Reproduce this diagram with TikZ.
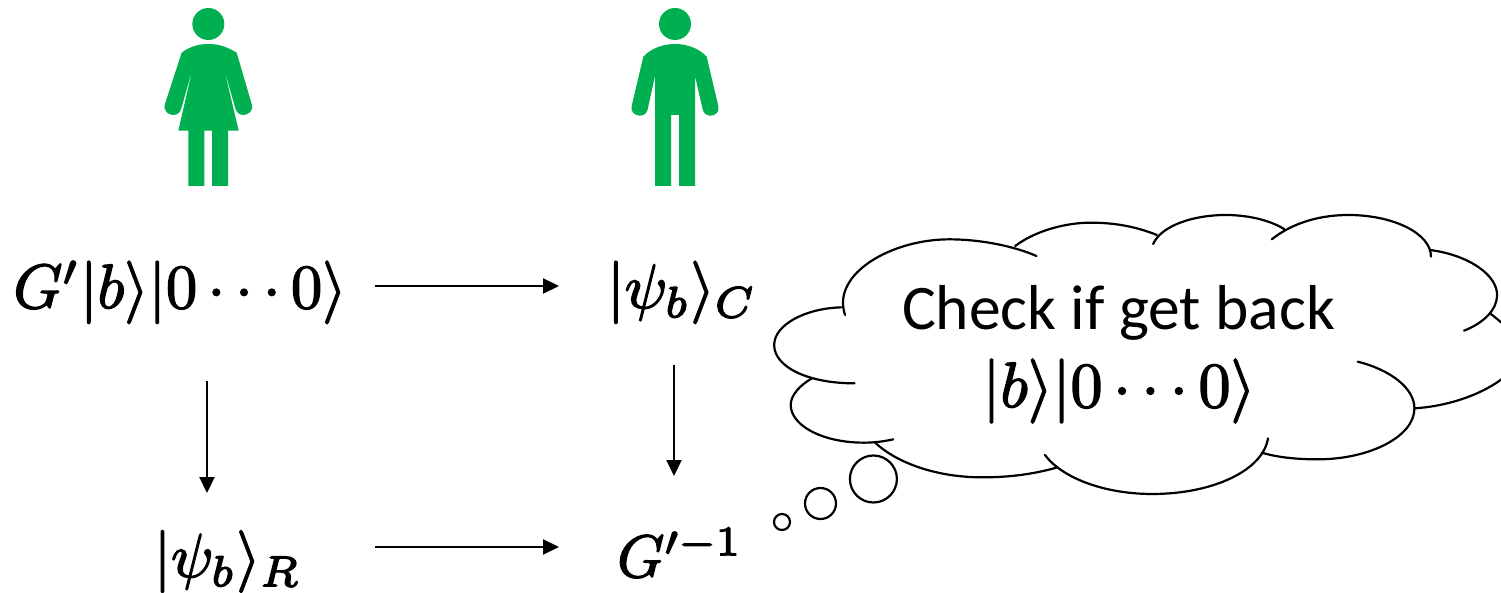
\documentclass[tikz,border=0pt]{standalone}
\usepackage{fontspec}
\setmainfont{Carlito}
\usetikzlibrary{arrows.meta}
\definecolor{figgreen}{HTML}{00B050}
\newcommand{\mscale}[2]{\scalebox{#1}{\special{pdf:code 2 Tr 0.22 w}$#2$\special{pdf:code 0 Tr}}}
\tikzset{
  figure/.style={fill=figgreen,draw=none},
  arr/.style={draw=black,line width=2.2pt,-{Triangle[length=16pt,width=15pt]}},
  cloudline/.style={draw=black,line width=2.2pt,line cap=round},
  bubble/.style={draw=black,line width=2.2pt,circle,inner sep=0pt},
  bigmath/.style={inner sep=0pt,anchor=base},
  cloudtext/.style={inner sep=0pt,anchor=base,font=\fontsize{63.5}{76}\selectfont}
}
\begin{document}
\begin{tikzpicture}[x=1pt,y=-1pt]
\clip (0,0) rectangle (1501,593);
\fill[white] (0,0) rectangle (1501,593);
% woman
\begin{scope}[shift={(140,0)},xscale=1/3,yscale=1/3]
\fill[figure] (205,72) circle[radius=48];
\fill[figure] (205,132) .. controls (170,132) and (145,143) .. (125,158) -- (75,312)
  .. controls (68,332) and (85,345) .. (100,345) .. controls (112,345) and (120,338) .. (124,325)
  -- (158,205) -- (115,392) -- (145,392) -- (145,558) -- (193,558) -- (193,392) -- (216,392)
  -- (216,558) -- (264,558) -- (264,392) -- (296,392) -- (252,205) -- (286,325)
  .. controls (290,338) and (298,345) .. (310,345) .. controls (325,345) and (342,332) .. (335,312)
  -- (290,158) .. controls (265,143) and (240,132) .. (205,132) -- cycle;
\end{scope}
% man
\begin{scope}[shift={(610,0)},xscale=1/3,yscale=1/3]
\fill[figure] (195,72) circle[radius=48];
\fill[figure] (195,132) .. controls (155,132) and (120,148) .. (100,170) -- (65,318)
  .. controls (60,335) and (75,347) .. (90,347) .. controls (102,347) and (110,340) .. (113,328)
  -- (135,228) -- (135,558) -- (183,558) -- (183,345) -- (207,345) -- (207,558) -- (255,558)
  -- (255,228) -- (278,328) .. controls (281,340) and (290,347) .. (302,347)
  .. controls (316,347) and (330,335) .. (325,318) -- (290,170)
  .. controls (270,148) and (235,132) .. (195,132) -- cycle;
\end{scope}
% math nodes
\node[bigmath] (gb) at (180,308) {\mscale{6.25}{G'|b\rangle|0\cdots0\rangle}};
\node[bigmath] (pc) at (682,308) {\mscale{6.25}{|\psi_b\rangle_C}};
\node[bigmath] (pr) at (227.5,577) {\mscale{6.2}{|\psi_b\rangle_R}};
\node[bigmath] (gi) at (680,577) {\mscale{6}{G'^{-1}}};
% connectors
\coordinate (a1) at (375,286); \coordinate (a2) at (559,286);
\coordinate (b1) at (207,381); \coordinate (b2) at (207,493);
\coordinate (c1) at (674,365); \coordinate (c2) at (674,476);
\coordinate (d1) at (375,547); \coordinate (d2) at (559,547);
\draw[arr] (a1) -- (a2);
\draw[arr] (b1) -- (b2);
\draw[arr] (c1) -- (c2);
\draw[arr] (d1) -- (d2);
% cloud
\begin{scope}[shift={(760,210)},xscale=1/2.116,yscale=1/3]
\draw[cloudline] (180,315) .. controls (150,190) and (280,88) .. (400,88) .. controls (470,88) and (540,110) .. (585,138);
\draw[cloudline] (540,108) .. controls (585,60) and (650,38) .. (700,38) .. controls (760,38) and (805,55) .. (840,75);
\draw[cloudline] (832,102) .. controls (850,45) and (920,15) .. (985,15) .. controls (1040,15) and (1085,35) .. (1110,58);
\draw[cloudline] (1083,88) .. controls (1130,35) and (1190,15) .. (1245,15) .. controls (1340,15) and (1420,70) .. (1420,140);
\draw[cloudline] (1418,120) .. controls (1500,135) and (1560,195) .. (1560,255) .. controls (1560,300) and (1530,340) .. (1490,362);
\draw[cloudline] (1545,310) .. controls (1590,360) and (1610,390) .. (1610,420) .. controls (1610,500) and (1500,585) .. (1385,595);
\draw[cloudline] (1265,455) .. controls (1335,480) and (1385,535) .. (1385,595) .. controls (1385,680) and (1290,748) .. (1180,748) .. controls (1135,748) and (1095,742) .. (1062,728);
\draw[cloudline] (1075,685) .. controls (1065,780) and (960,852) .. (830,852) .. controls (730,852) and (640,805) .. (603,735);
\draw[cloudline] (630,772) .. controls (580,792) and (530,802) .. (470,802) .. controls (375,802) and (290,760) .. (243,697);
\draw[cloudline] (282,688) .. controls (260,695) and (240,698) .. (220,698) .. controls (130,698) and (65,645) .. (65,585) .. controls (65,555) and (85,525) .. (110,505);
\draw[cloudline] (200,520) .. controls (100,520) and (30,470) .. (30,405) .. controls (30,345) and (95,295) .. (172,292);
\end{scope}
\node[bubble,minimum size=47pt] (bub1) at (873.4,479) {};
\node[bubble,minimum size=31pt] (bub2) at (820.5,503.5) {};
\node[bubble,minimum size=16pt] (bub3) at (782,522) {};
\node[cloudtext] (t1) at (1118.5,330) {Check if get back};
\node[bigmath] (t2) at (1119,407) {\mscale{6.4}{|b\rangle|0\cdots0\rangle}};
\end{tikzpicture}
\end{document}
